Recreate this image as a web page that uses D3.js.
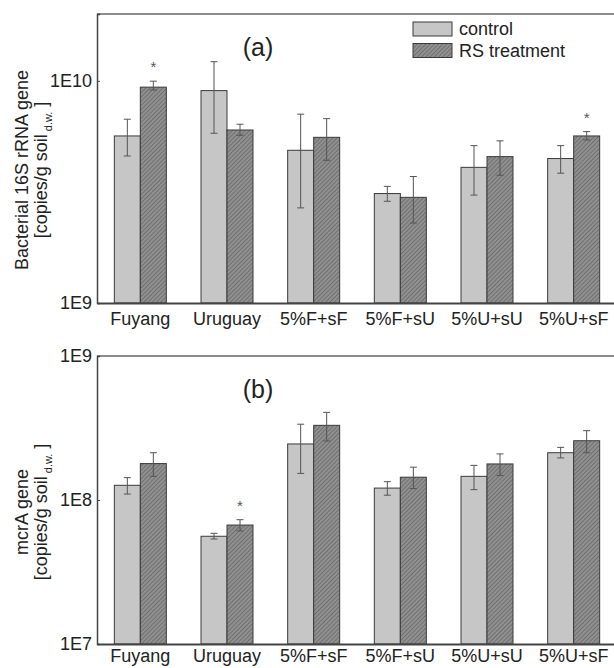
<!DOCTYPE html>
<html>
<head>
<meta charset="utf-8">
<script src="https://cdn.jsdelivr.net/npm/d3@7"></script>
<style>
  body { margin: 0; background: #fff; }
  svg { display: block; font-family: "Liberation Sans", Arial, sans-serif; }
</style>
</head>
<body>
<script>
// categories and series
const sites = ['Fuyang', 'Uruguay', '5%F+sF', '5%F+sU', '5%U+sU', '5%U+sF'];
const series = ['control', 'RS treatment'];

// (a) bacterial 16S rRNA gene, copies/g soil
const bacControl = [5.65e9, 9.04e9, 4.87e9, 3.11e9, 4.08e9, 4.47e9];
const bacControlHi = [6.72e9, 12.2e9, 7.08e9, 3.35e9, 5.11e9, 5.11e9];
const bacControlLo = [4.59e9, 5.81e9, 2.68e9, 2.87e9, 3.06e9, 3.84e9];
const bacRS = [9.37e9, 6.01e9, 5.57e9, 2.99e9, 4.56e9, 5.65e9];
const bacRSHi = [9.97e9, 6.38e9, 6.76e9, 3.71e9, 5.37e9, 5.91e9];
const bacRSLo = [9.1e9, 5.69e9, 4.39e9, 2.29e9, 3.76e9, 5.42e9];
const bacStars = ['Fuyang', '5%U+sF'];

// (b) mcrA gene, copies/g soil
const mcrControl = [1.265e8, 5.6e7, 2.45e8, 1.21e8, 1.46e8, 2.13e8];
const mcrControlHi = [1.43e8, 5.87e7, 3.36e8, 1.34e8, 1.74e8, 2.32e8];
const mcrControlLo = [1.10e8, 5.36e7, 1.53e8, 1.08e8, 1.18e8, 1.96e8];
const mcrRS = [1.79e8, 6.7e7, 3.3e8, 1.44e8, 1.78e8, 2.58e8];
const mcrRSHi = [2.13e8, 7.3e7, 4.06e8, 1.69e8, 2.09e8, 3.03e8];
const mcrRSLo = [1.46e8, 6.1e7, 2.57e8, 1.2e8, 1.48e8, 2.13e8];
const mcrStars = ['Uruguay'];

const width = 614, height = 668;
const svg = d3.select('body').append('svg')
    .attr('width', width)
    .attr('height', height);

// diagonal hatch for RS treatment
const pat = svg.append('defs').append('pattern')
    .attr('id', 'hatch')
    .attr('patternUnits', 'userSpaceOnUse')
    .attr('width', 3).attr('height', 3)
    .attr('patternTransform', 'rotate(45)');
pat.append('rect').attr('width', 3).attr('height', 3).attr('fill', '#909090');
pat.append('line').attr('x1', 0).attr('y1', 0).attr('x2', 0).attr('y2', 3)
    .attr('stroke', '#555').attr('stroke-width', 1.1);

const fills = {'control': '#c6c6c6', 'RS treatment': 'url(#hatch)'};

const x = d3.scaleBand().domain(sites).range([97, 617]).paddingInner(0.4).paddingOuter(0.2);
const xs = d3.scaleBand().domain(series).range([0, x.bandwidth()]);

function panel(cfg) {
    const y = d3.scaleLog().domain(cfg.domain).range([cfg.bottom, cfg.top]);
    const g = svg.append('g');

    const rows = sites.map((s, i) => ({
        site: s,
        vals: [
            {key: 'control', v: cfg.ctrl[i], hi: cfg.ctrlHi[i], lo: cfg.ctrlLo[i]},
            {key: 'RS treatment', v: cfg.rs[i], hi: cfg.rsHi[i], lo: cfg.rsLo[i]}
        ]
    }));

    const grp = g.selectAll('g.site').data(rows).enter().append('g')
        .attr('class', 'site')
        .attr('transform', d => `translate(${x(d.site)},0)`);

    grp.selectAll('rect').data(d => d.vals).enter().append('rect')
        .attr('x', d => xs(d.key))
        .attr('y', d => y(d.v))
        .attr('width', xs.bandwidth())
        .attr('height', d => cfg.bottom - y(d.v))
        .attr('fill', d => fills[d.key])
        .attr('stroke', '#3a3a3a')
        .attr('stroke-width', 1);

    // error bars
    const eb = grp.selectAll('g.err').data(d => d.vals).enter().append('g')
        .attr('class', 'err')
        .attr('stroke', '#555')
        .attr('stroke-width', 1);
    eb.append('line')
        .attr('x1', d => xs(d.key) + xs.bandwidth() / 2)
        .attr('x2', d => xs(d.key) + xs.bandwidth() / 2)
        .attr('y1', d => y(d.hi)).attr('y2', d => y(d.lo));
    eb.append('line')
        .attr('x1', d => xs(d.key) + xs.bandwidth() / 2 - 3.5)
        .attr('x2', d => xs(d.key) + xs.bandwidth() / 2 + 3.5)
        .attr('y1', d => y(d.hi)).attr('y2', d => y(d.hi));
    eb.append('line')
        .attr('x1', d => xs(d.key) + xs.bandwidth() / 2 - 3.5)
        .attr('x2', d => xs(d.key) + xs.bandwidth() / 2 + 3.5)
        .attr('y1', d => y(d.lo)).attr('y2', d => y(d.lo));

    // significance stars above RS bars
    g.selectAll('text.star').data(rows.filter(r => cfg.stars.includes(r.site))).enter()
        .append('text')
        .attr('class', 'star')
        .attr('x', d => x(d.site) + xs('RS treatment') + xs.bandwidth() / 2)
        .attr('y', d => y(d.vals[1].hi) - 9)
        .attr('text-anchor', 'middle')
        .attr('font-size', 15)
        .attr('fill', '#555')
        .text('*');

    // frame
    g.append('line').attr('x1', 97).attr('x2', 617).attr('y1', cfg.top).attr('y2', cfg.top)
        .attr('stroke', '#666').attr('stroke-width', 1.5);

    const yAxis = g.append('g')
        .attr('transform', 'translate(97,0)')
        .call(d3.axisLeft(y).tickValues(cfg.ticks).tickSize(-3).tickPadding(5)
            .tickFormat(d => '1E' + Math.round(Math.log10(d))));
    yAxis.select('.domain').attr('stroke', '#444').attr('stroke-width', 1.5);
    yAxis.selectAll('.tick line').attr('stroke', '#444');
    yAxis.selectAll('.tick text').attr('font-size', 18).attr('fill', '#222')
        .attr('font-family', '"Liberation Sans", Arial, sans-serif');

    const xAxis = g.append('g')
        .attr('transform', `translate(0,${cfg.bottom})`)
        .call(d3.axisBottom(x).tickSize(0).tickPadding(cfg.labelPad));
    xAxis.select('.domain').attr('stroke', '#444').attr('stroke-width', 2);
    xAxis.selectAll('.tick text').attr('font-size', 18).attr('fill', '#222')
        .attr('font-family', '"Liberation Sans", Arial, sans-serif');

    // panel tag
    g.append('text')
        .attr('x', 258).attr('y', cfg.top + 42)
        .attr('text-anchor', 'middle')
        .attr('font-size', 25)
        .attr('fill', '#222')
        .text(cfg.tag);

    // y title
    const t = g.append('text')
        .attr('transform', `translate(0,${cfg.titleY}) rotate(-90)`)
        .attr('text-anchor', 'middle')
        .attr('font-size', 18)
        .attr('fill', '#222');
    t.append('tspan').attr('x', 0).attr('y', 28).text(cfg.title);
    const t2 = t.append('tspan').attr('x', 0).attr('y', 47);
    t2.append('tspan').text('[copies/g soil');
    t2.append('tspan').attr('font-size', 11).attr('dy', 5).text(' d.w.');
    t2.append('tspan').attr('dy', -5).text(' ]');
}

panel({
    domain: [1e9, 2e10], top: 14, bottom: 303, ticks: [1e9, 1e10], labelPad: 9,
    ctrl: bacControl, ctrlHi: bacControlHi, ctrlLo: bacControlLo,
    rs: bacRS, rsHi: bacRSHi, rsLo: bacRSLo, stars: bacStars,
    tag: '(a)', title: 'Bacterial 16S rRNA gene', titleY: 170
});

panel({
    domain: [1e7, 1e9], top: 356, bottom: 644, ticks: [1e7, 1e8, 1e9], labelPad: 5,
    ctrl: mcrControl, ctrlHi: mcrControlHi, ctrlLo: mcrControlLo,
    rs: mcrRS, rsHi: mcrRSHi, rsLo: mcrRSLo, stars: mcrStars,
    tag: '(b)', title: 'mcrA gene', titleY: 512
});

// legend
const legend = svg.append('g').attr('transform', 'translate(413,22)');
const li = legend.selectAll('g').data(series).enter().append('g')
    .attr('transform', (d, i) => `translate(0,${i * 21.5})`);
li.append('rect')
    .attr('width', 39).attr('height', 14)
    .attr('fill', d => fills[d])
    .attr('stroke', '#3a3a3a');
li.append('text')
    .attr('x', 46).attr('y', 13)
    .attr('font-size', 18)
    .attr('fill', '#222')
    .text(d => d);
</script>
</body>
</html>
